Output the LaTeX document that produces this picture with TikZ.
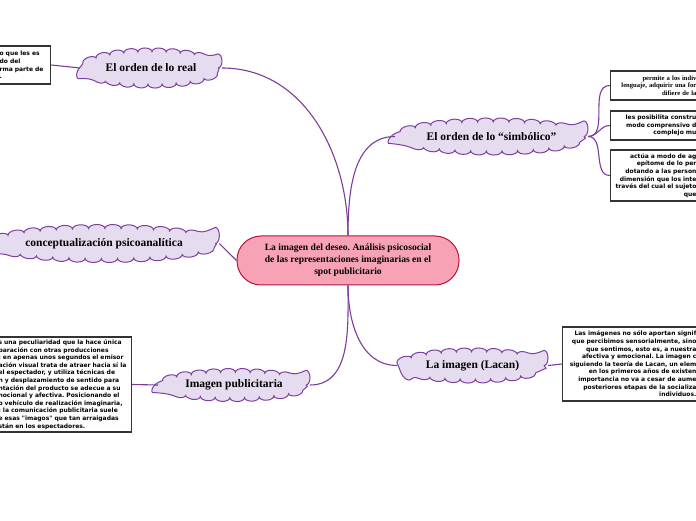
\documentclass[tikz,border=0pt]{standalone}
\usepackage{fontspec}
\setmainfont{Liberation Serif}
\newfontfamily\leaffont{DejaVu Sans}
\usetikzlibrary{shapes.geometric, decorations.pathmorphing}
\frenchspacing

\definecolor{corefill}{HTML}{F7A3B5}
\definecolor{coreline}{HTML}{B8143C}
\definecolor{topicfill}{HTML}{E6DCEF}
\definecolor{topicline}{HTML}{7E3FA0}
\definecolor{linkline}{HTML}{7B3C9C}

\begin{document}
\begin{tikzpicture}[x=1pt, y=1pt,
    core/.style={rectangle, rounded corners=24pt, draw=coreline, fill=corefill, line width=1pt, minimum width=222pt, minimum height=49pt, align=center, font=\bfseries\fontsize{9.6}{12}\selectfont},
    topic/.style={ellipse, draw=topicline, fill=topicfill, line width=1pt, inner sep=0pt, outer sep=4pt, decorate, decoration={bumps, mirror, amplitude=4pt, segment length=#1}, font=\bfseries\fontsize{11.5}{13}\selectfont},
    leaf/.style={rectangle, draw=black!80, fill=white, line width=1.2pt, inner xsep=3pt, inner ysep=2pt, font=\leaffont\bfseries\fontsize{6}{7.6}\selectfont},
    link/.style={draw=linkline, line width=1.1pt}
]
    \useasboundingbox (0,0) rectangle (696,520);
    \clip (0,0) rectangle (696,520);

    % main topic
    \node[core] (core) at (348,259.5) {La imagen del deseo. Análisis psicosocial\\de las representaciones imaginarias en el\\spot publicitario};

    % subtopics
    \node[topic=28.2pt, minimum width=134pt, minimum height=32pt] (real) at (151,452) {El orden de lo real};
    \node[topic=31.3pt, minimum width=185pt, minimum height=29pt] (simb) at (491.5,383.5) {El orden de lo “simbólico”};
    \node[topic=32.4pt, minimum width=208pt, minimum height=30pt] (concept) at (104,276.5) {conceptualización psicoanalítica};
    \node[topic=29.4pt, minimum width=144pt, minimum height=25pt] (pub) at (234,135) {Imagen publicitaria};
    \node[topic=30.3pt, minimum width=143pt, minimum height=27pt] (lacan) at (472.5,154.5) {La imagen (Lacan)};

    % notes
    \node[leaf, anchor=west, text width=49pt, inner xsep=2pt, minimum height=38pt, align=left] (realnote) at (-3,455) {o que les es\\do del\\rma parte de\\.};
    \node[leaf, anchor=east, text width=83pt, minimum height=29pt, align=right, font=\bfseries\fontsize{6.6}{7.6}\selectfont] (simbone) at (700,434.5) {permite a los indiv\\lenguaje, adquirir una for\\difiere de la};
    \node[leaf, anchor=east, text width=83pt, minimum height=29pt, align=right] (simbtwo) at (700,394.5) {les posibilita constru\\modo comprensivo d\\complejo mu};
    \node[leaf, anchor=east, text width=83pt, minimum height=51pt, align=right] (simbthree) at (700,344.5) {actúa a modo de ag\\epítome de lo per\\dotando a las person\\dimensión que los inte\\través del cual el sujeto\\que};
    \node[leaf, anchor=west, text width=131pt, inner xsep=2pt, minimum height=95pt, align=left] (pubnote) at (-4,135.5) {s una peculiaridad que la hace única\\paración con otras producciones\\: en apenas unos segundos el emisor\\ación visual trata de atraer hacia sí la\\el espectador, y utiliza técnicas de\\n y desplazamiento de sentido para\\ntación del producto se adecue a su\\nocional y afectiva. Posicionando el\\o vehículo de realización imaginaria,\\: la comunicación publicitaria suele\\e esas "imagos" que tan arraigadas\\stán en los espectadores.};
    \node[leaf, anchor=east, text width=131pt, minimum height=74pt, align=right] (lacannote) at (700,156) {Las imágenes no sólo aportan signif\\que percibimos sensorialmente, sino\\que sentimos, esto es, a nuestra\\afectiva y emocional. La imagen c\\siguiendo la teoría de Lacan, un elem\\en los primeros años de existen\\importancia no va a cesar de aume\\posteriores etapas de la socializa\\individuos.\hspace*{20pt}};

    % connectors
    \draw[link] (core.north) to[out=90, in=0] (real.east);
    \draw[link] (core.north) to[out=90, in=180] (simb.west);
    \draw[link] (core.west) -- (concept.east);
    \draw[link] (core.south) to[out=-90, in=0] (pub.east);
    \draw[link] (core.south) to[out=-90, in=180] (lacan.west);
    \draw[link] (real.west) -- (realnote.east);
    \draw[link] (simb.east) to[out=0, in=180] (simbone.west);
    \draw[link] (simb.east) to[out=0, in=180] (simbtwo.west);
    \draw[link] (simb.east) to[out=0, in=180] (simbthree.west);
    \draw[link] (pub.west) -- (pubnote.east);
    \draw[link] (lacan.east) -- (lacannote.west);
\end{tikzpicture}
\end{document}
